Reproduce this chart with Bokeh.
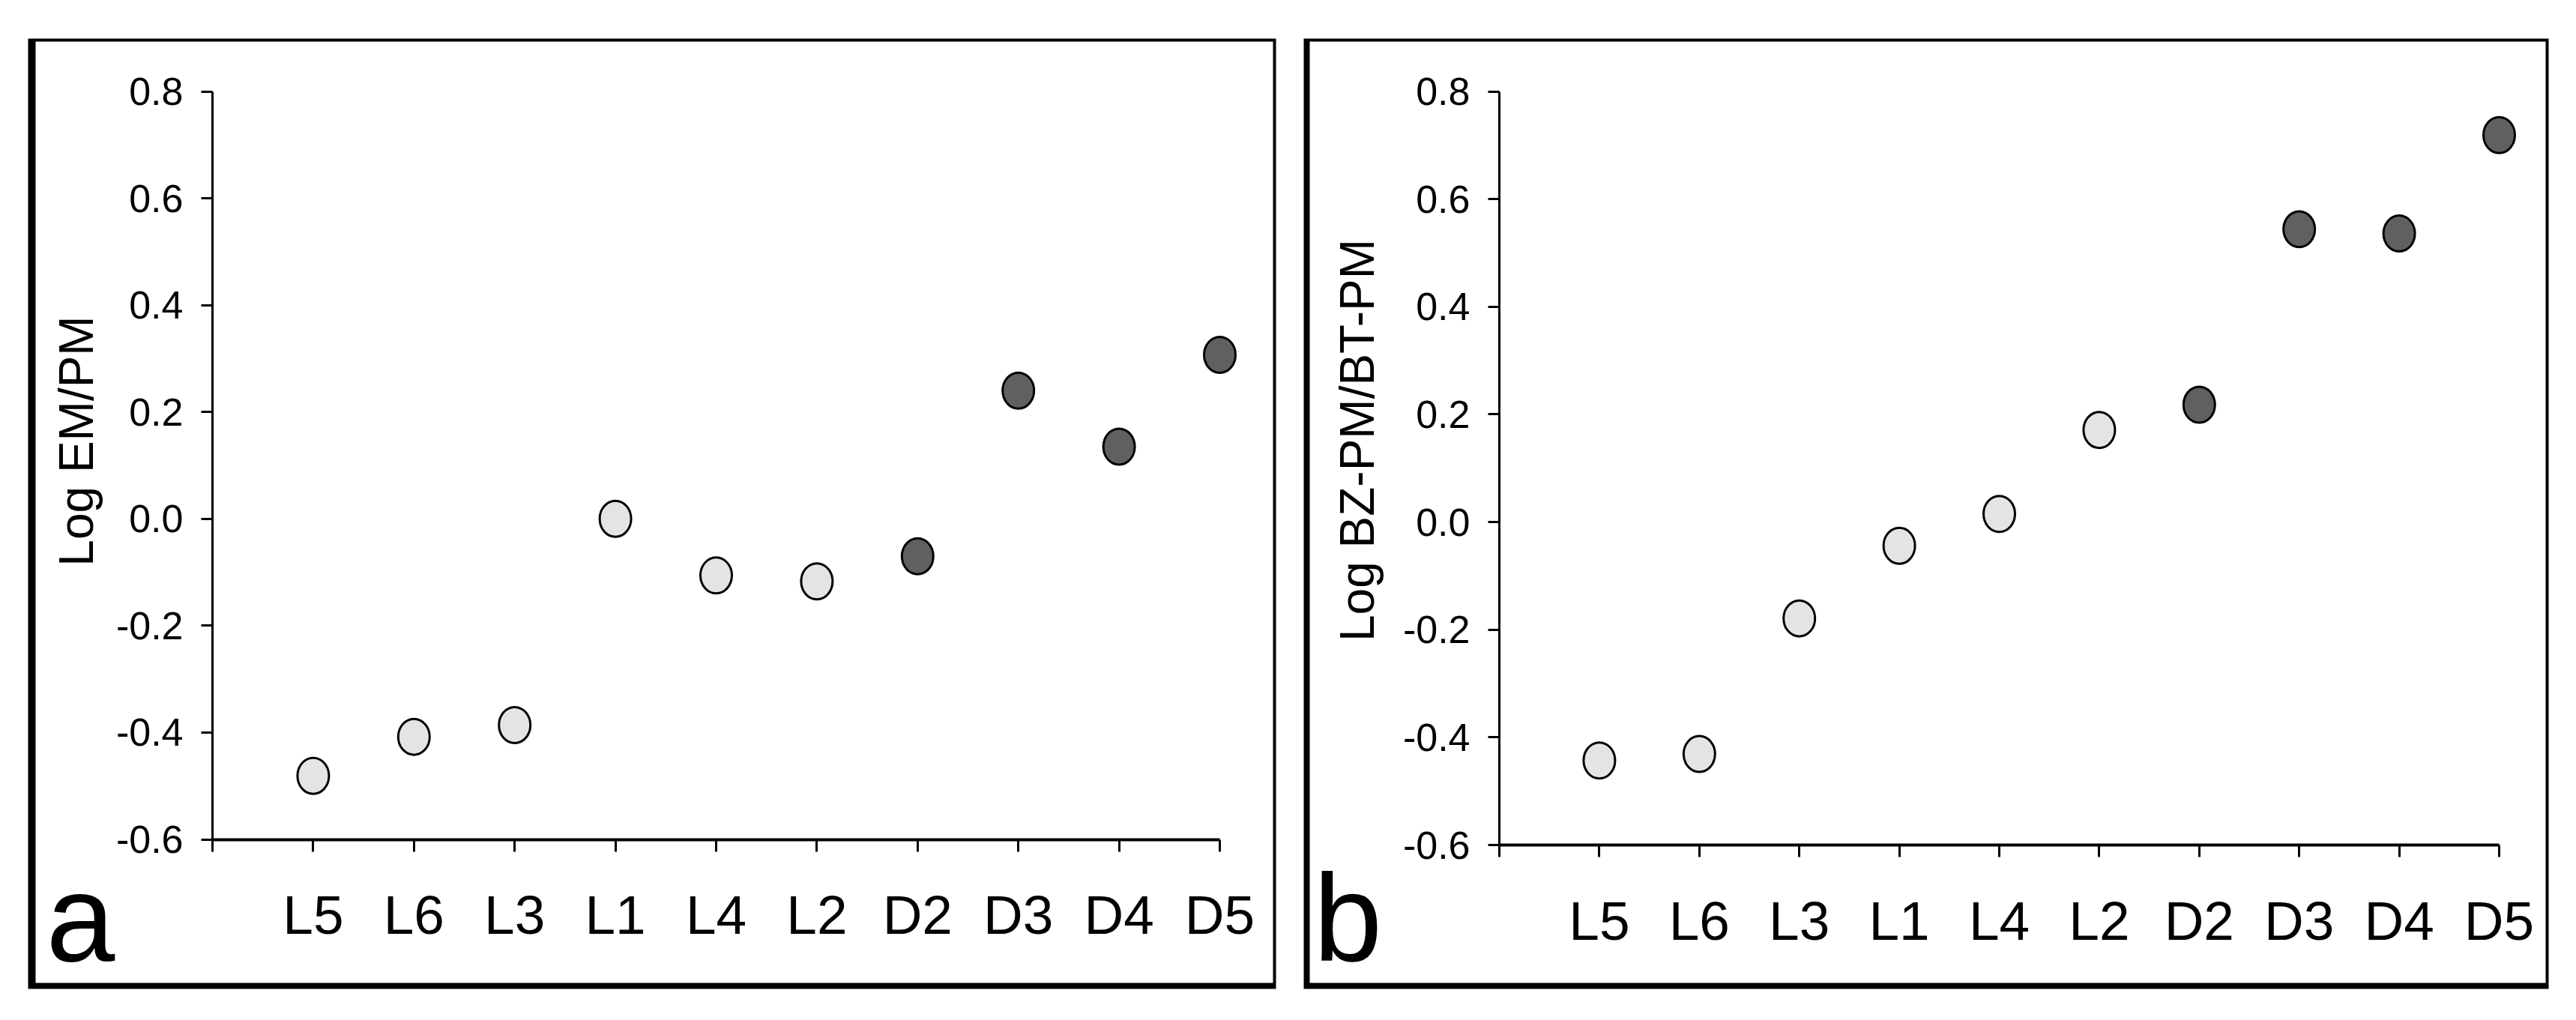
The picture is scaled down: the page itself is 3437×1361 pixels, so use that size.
import math
from bokeh.plotting import figure
from bokeh.models import (LinearAxis, FixedTicker, PrintfTickFormatter, Range1d,
                          BoxAnnotation, Label, ColumnDataSource)
from bokeh.layouts import row
from bokeh.embed import file_html
from bokeh.resources import INLINE

# ---------------- data ----------------
categories = ["L5", "L6", "L3", "L1", "L4", "L2", "D2", "D3", "D4", "D5"]
groups = ["L", "L", "L", "L", "L", "L", "D", "D", "D", "D"]
log_em_pm = [-0.481, -0.408, -0.386, 0.0, -0.106, -0.117, -0.070, 0.240, 0.135, 0.307]
log_bzpm_btpm = [-0.443, -0.431, -0.179, -0.044, 0.015, 0.171, 0.218, 0.544, 0.536, 0.719]
y_ticks = [-0.6, -0.4, -0.2, 0.0, 0.2, 0.4, 0.6, 0.8]
ylabel_a = "Log EM/PM"
ylabel_b = "Log BZ-PM/BT-PM"

FONT = "Liberation Sans"
LIGHT = "#e4e4e4"
DARK = "#606060"
TOP = 0
H = 1356


def make_panel(values, ylabel, letter, L):
    ux = L["ux"]
    uy = (L["y_bot"] - L["y_top"]) / 1.4

    def dx(px):
        return (px - L["ax_x"]) / ux

    def dy(py):
        return -0.6 + (L["y_bot"] - py) / uy

    p = figure(width=L["width"], height=H, output_backend="svg", toolbar_location=None,
               x_axis_type=None, y_axis_type=None,
               x_range=Range1d(dx(L["left"]), dx(L["left"] + L["width"])),
               y_range=Range1d(dy(TOP + H), dy(TOP)),
               min_border=0, min_border_left=0, min_border_right=0,
               min_border_top=0, min_border_bottom=0,
               outline_line_color=None, background_fill_color="white",
               border_fill_color="white")
    p.grid.visible = False

    # panel frame (shadowed box)
    p.add_layout(BoxAnnotation(left=dx(L["ol"]), right=dx(L["or"]), top=dy(L["ot"]),
                               bottom=dy(L["ob"]), fill_color="black", fill_alpha=1.0,
                               line_color=None, level="underlay"))
    p.add_layout(BoxAnnotation(left=dx(L["il"]), right=dx(L["ir"]), top=dy(L["it"]),
                               bottom=dy(L["ib"]), fill_color="white", fill_alpha=1.0,
                               line_color=None, level="underlay"))

    xs = list(range(1, len(categories) + 1))
    fills = [LIGHT if g == "L" else DARK for g in groups]
    src = ColumnDataSource(dict(x=xs, y=values, fill=fills, cat=categories))
    p.ellipse(x="x", y="y", width=42, height=48, width_units="screen",
              height_units="screen", fill_color="fill", line_color="black",
              line_width=3, source=src)

    overrides = {0: ""}
    for i, c in enumerate(categories):
        overrides[i + 1] = c
    xaxis = LinearAxis(fixed_location=-0.6, bounds=(0, len(categories)),
                       ticker=FixedTicker(ticks=list(range(len(categories) + 1))),
                       major_label_overrides=overrides,
                       major_tick_out=16, major_tick_in=0, minor_tick_out=0, minor_tick_in=0,
                       axis_line_width=4, axis_line_color="black",
                       major_tick_line_width=3, major_tick_line_color="black",
                       major_label_standoff=44,
                       major_label_text_font=FONT, major_label_text_font_size="73px",
                       major_label_text_color="black")
    yaxis = LinearAxis(fixed_location=0, bounds=(-0.6, 0.8),
                       ticker=FixedTicker(ticks=y_ticks),
                       formatter=PrintfTickFormatter(format="%.1f"),
                       major_tick_out=15, major_tick_in=0, minor_tick_out=0, minor_tick_in=0,
                       axis_line_width=3, axis_line_color="black",
                       major_tick_line_width=3, major_tick_line_color="black",
                       major_label_standoff=24,
                       major_label_text_font=FONT, major_label_text_font_size="52px",
                       major_label_text_color="black")
    p.add_layout(xaxis, "below")
    p.add_layout(yaxis, "left")

    p.add_layout(Label(x=dx(L["ylx"]), y=dy(L["yly"]), text=ylabel, angle=math.pi / 2,
                       text_align="center", text_baseline="middle",
                       text_font=FONT, text_font_size="64px", text_color="black"))
    p.add_layout(Label(x=dx(L["ltx"]), y=dy(L["lty"]), text=letter,
                       text_align="left", text_baseline="alphabetic",
                       text_font=FONT, text_font_size="165px", text_color="black"))
    return p


LA = dict(left=0, width=1720, ax_x=283, ux=134.4, y_bot=1119.5, y_top=121.5,
          ol=37, ot=51, ob=1319, il=47, ir=1698, it=55, ib=1311,
          ylx=101, yly=588, ltx=61, lty=1224)
LA["or"] = 1702
LB = dict(left=1720, width=1717, ax_x=2000, ux=133.4, y_bot=1127, y_top=121.5,
          ol=1739, ot=51, ob=1319, il=1747, ir=3396, it=55, ib=1311,
          ylx=1810, yly=587, ltx=1752, lty=1224)
LB["or"] = 3400

pa = make_panel(log_em_pm, ylabel_a, "a", LA)
pb = make_panel(log_bzpm_btpm, ylabel_b, "b", LB)

layout = row(pa, pb)
open("out.html", "w").write(file_html(layout, INLINE))
